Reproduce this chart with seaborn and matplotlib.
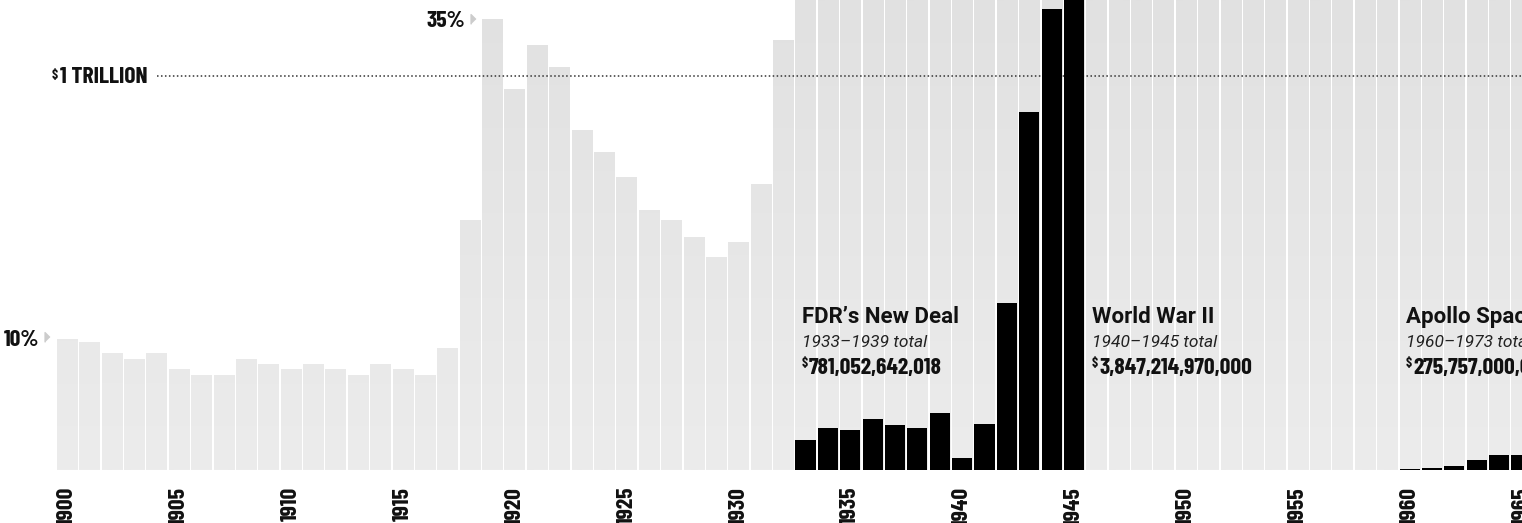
import os
import numpy as np
import pandas as pd
import matplotlib
matplotlib.use("Agg")
import matplotlib.pyplot as plt
import seaborn as sns
from matplotlib import font_manager as fm
from matplotlib.font_manager import FontProperties
from matplotlib.colors import LinearSegmentedColormap
from matplotlib.transforms import blended_transform_factory

# ---------------- data ----------------
years = list(range(1900, 1966))
# grey background bars (% share); bars from 1933 on run past the top of the frame
share_pct = [10.2, 9.9, 9.1, 8.6, 9.1, 7.8, 7.4, 7.4, 8.6, 8.2,
             7.8, 8.2, 7.8, 7.4, 8.2, 7.8, 7.4, 9.5, 19.4, 35.0,
             29.6, 33.0, 31.3, 26.4, 24.7, 22.7, 20.2, 19.4, 18.1, 16.5,
             17.7, 22.2, 33.4, 40.0, 40.0, 40.0, 40.0, 40.0, 40.0, 40.0,
             40.0, 40.0, 40.0, 40.0, 40.0, 40.0, 40.0, 40.0, 40.0, 40.0,
             40.0, 40.0, 40.0, 40.0, 40.0, 40.0, 40.0, 40.0, 40.0, 40.0,
             40.0, 40.0, 40.0, 40.0, 40.0, 40.0]

# program spending, billions of dollars
new_deal_years = [1933, 1934, 1935, 1936, 1937, 1938, 1939]
new_deal_spend = [76, 106, 101, 129, 114, 106, 145]
wwii_years = [1940, 1941, 1942, 1943, 1944, 1945]
wwii_spend = [30, 117, 424, 908, 1169, 1199]
apollo_years = [1960, 1961, 1962, 1963, 1964, 1965]
apollo_spend = [2.5, 5, 10, 25, 38, 38]

tick_years = [1900, 1905, 1910, 1915, 1920, 1925, 1930, 1935, 1940, 1945,
              1950, 1955, 1960, 1965]

programs = ["FDR\u2019s New Deal", "World War II", "Apollo Space Program"]
program_periods = ["1933\u20131939 total", "1940\u20131945 total", "1960\u20131973 total"]
program_totals = ["781,052,642,018", "3,847,214,970,000", "275,757,000,000"]

# ---------------- fonts ----------------
def pick_file(prefs):
    files = [f.fname for f in fm.fontManager.ttflist]
    for p in prefs:
        for fn in files:
            if os.path.basename(fn).startswith(p + "."):
                return fn
    return None

cond_file = pick_file(["BarlowCondensed-Bold", "FiraSansExtraCondensed-Bold",
                       "RobotoCondensed-Bold", "LiberationSansNarrow-Bold",
                       "DejaVuSansCondensed-Bold"])

def cond(size):
    if cond_file:
        return FontProperties(fname=cond_file, size=size)
    return FontProperties(family="DejaVu Sans", weight="bold", size=size)

title_fp = FontProperties(family="Roboto", weight="bold", size=16)
italic_fp = FontProperties(family="Roboto", style="italic", size=12.5)

# ---------------- figure ----------------
W, H = 1522, 523
fig = plt.figure(figsize=(W / 100, H / 100), dpi=100)
fig.patch.set_facecolor("white")
ax = fig.add_axes([0, 0, 1, 1])

XMIN, XMAX = 1897.006, 1965.02
PCT_MIN, PCT_MAX = -4.113, 36.47
BIL_MIN, BIL_MAX = -134.4, 1192.0

sns.barplot(x=years, y=share_pct, native_scale=True, width=0.9,
            color="#e7e7e7", saturation=1, errorbar=None, linewidth=0, ax=ax)

ax.set_xlim(XMIN, XMAX)
ax.set_ylim(PCT_MIN, PCT_MAX)
ax.set_autoscale_on(False)

# vertical grey gradient clipped to each grey bar
cmap = LinearSegmentedColormap.from_list("g", ["#ececec", "#e1e1e1"])
grad = np.linspace(0, 1, 256).reshape(-1, 1)
for patch in list(ax.patches):
    im = ax.imshow(grad, extent=[XMIN, XMAX, 0, PCT_MAX], origin="lower",
                   aspect="auto", cmap=cmap, zorder=1.5, interpolation="bilinear")
    im.set_clip_path(patch)

# black program bars on a dollar axis
prog_df = pd.DataFrame({
    "year": new_deal_years + wwii_years + apollo_years,
    "spend": new_deal_spend + wwii_spend + apollo_spend,
})
ax2 = ax.twinx()
sns.barplot(data=prog_df, x="year", y="spend", native_scale=True, width=0.9,
            color="black", saturation=1, errorbar=None, linewidth=0, ax=ax2,
            zorder=3)
ax2.set_xlim(XMIN, XMAX)
ax2.set_ylim(BIL_MIN, BIL_MAX)

# $1 trillion dotted reference line
ax2.axhline(1000, xmin=157 / W, xmax=1, color="#333333", lw=1.1,
            ls=(0, (1, 1.6)), zorder=1)

for a in (ax, ax2):
    a.set_axis_off()

def fx(px):
    return px / W

def fy(py):
    return 1 - py / H

INK = "#111111"

# year labels
trans = blended_transform_factory(ax.transData, fig.transFigure)
for yr in tick_years:
    ax.text(yr, fy(487), str(yr), rotation=90, ha="center", va="top",
            fontproperties=cond(17), color=INK, transform=trans)

# percentage markers
fig.text(fx(465), fy(27), "35%", ha="right", va="baseline",
         fontproperties=cond(17), color=INK)
fig.text(fx(39), fy(346), "10%", ha="right", va="baseline",
         fontproperties=cond(17), color=INK)
tri = [(-0.5, -1), (-0.5, 1), (0.5, 0)]
for (px, py) in [(473, 19), (47, 337)]:
    fig.lines.append(plt.Line2D([fx(px)], [fy(py)], marker=tri, markersize=7,
                                color="#cccccc", linestyle="none",
                                transform=fig.transFigure))

# $1 trillion label
fig.text(fx(58), fy(79), "$", ha="right", va="baseline",
         fontproperties=cond(10), color=INK)
fig.text(fx(60), fy(83), "1 TRILLION", ha="left", va="baseline",
         fontproperties=cond(17), color=INK)

# program annotations
prog_x = [802, 1092, 1406]
for x0, name, period, total in zip(prog_x, programs, program_periods, program_totals):
    fig.text(fx(x0), fy(323), name, ha="left", va="baseline",
             fontproperties=title_fp, color=INK)
    fig.text(fx(x0), fy(347), period, ha="left", va="baseline",
             fontproperties=italic_fp, color="#222222")
    fig.text(fx(x0), fy(367), "$", ha="left", va="baseline",
             fontproperties=cond(10), color=INK)
    fig.text(fx(x0 + 7), fy(374), total, ha="left", va="baseline",
             fontproperties=cond(17), color=INK)

fig.savefig("out.png", dpi=100, facecolor="white")
